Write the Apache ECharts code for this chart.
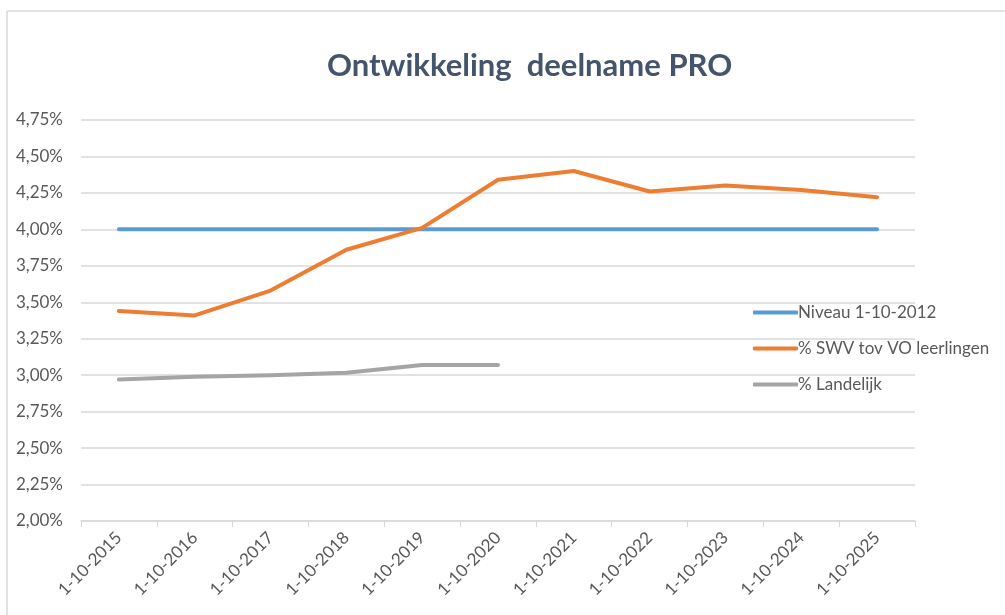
<!DOCTYPE html>
<html>
<head>
<meta charset="utf-8">
<script src="https://cdn.jsdelivr.net/npm/echarts@6/dist/echarts.min.js"></script>
<style>
  html, body { margin: 0; padding: 0; background: #fff; }
  #chart { width: 1005px; height: 615px; }
</style>
</head>
<body>
<div id="chart"></div>
<script>
// categorieën (x-as)
const categories = ['1-10-2015', '1-10-2016', '1-10-2017', '1-10-2018', '1-10-2019', '1-10-2020',
  '1-10-2021', '1-10-2022', '1-10-2023', '1-10-2024', '1-10-2025']
// reeksen, in procenten
const niveau2012 = [4.00, 4.00, 4.00, 4.00, 4.00, 4.00, 4.00, 4.00, 4.00, 4.00, 4.00]
const swvTovVo = [3.44, 3.41, 3.58, 3.86, 4.01, 4.34, 4.40, 4.26, 4.30, 4.27, 4.22]
const landelijk = [2.97, 2.99, 3.00, 3.016, 3.07, 3.07]
const seriesNames = ['Niveau 1-10-2012', '% SWV tov VO leerlingen', '% Landelijk']

const chart = echarts.init(document.getElementById('chart'))
const font = 'Lato, "Open Sans", sans-serif'

const option = {
  backgroundColor: '#fff',
  color: ['#5B9BD5', '#ED7D31', '#A5A5A5'],
  textStyle: { fontFamily: font },
  title: {
    text: 'Ontwikkeling  deelname PRO',
    left: 322,
    top: 45,
    textStyle: { fontSize: 31, fontWeight: 'bold', color: '#44546A', fontFamily: font }
  },
  graphic: [
    { type: 'line', shape: { x1: 7, y1: 11, x2: 1005, y2: 11 }, style: { stroke: '#d9d9d9', lineWidth: 1.5 } },
    { type: 'line', shape: { x1: 7, y1: 11, x2: 7, y2: 615 }, style: { stroke: '#d9d9d9', lineWidth: 1.5 } }
  ],
  legend: {
    orient: 'vertical',
    left: 748,
    top: 299,
    itemGap: 19,
    itemWidth: 45,
    itemHeight: 4,
    icon: 'roundRect',
    textStyle: { fontSize: 17, color: '#595959', padding: [0, 0, 0, -5] },
    data: seriesNames
  },
  grid: { left: 81, right: 90, top: 120, bottom: 94 },
  xAxis: {
    type: 'category',
    data: categories,
    boundaryGap: true,
    axisLine: { lineStyle: { color: '#d9d9d9', width: 1.5 } },
    axisTick: { show: true, alignWithLabel: false, length: 6, lineStyle: { color: '#d9d9d9' } },
    axisLabel: { rotate: 45, fontSize: 17, color: '#595959', margin: 14, interval: 0 }
  },
  yAxis: {
    type: 'value',
    min: 2.00,
    max: 4.75,
    interval: 0.25,
    axisLine: { show: false },
    axisTick: { show: false },
    splitLine: { lineStyle: { color: '#d9d9d9', width: 1.5 } },
    axisLabel: {
      fontSize: 17, color: '#595959', margin: 18,
      formatter: v => v.toFixed(2).replace('.', ',') + '%'
    }
  },
  series: [
    { name: seriesNames[0], type: 'line', data: niveau2012, symbol: 'none', lineStyle: { width: 4, cap: 'round' } },
    { name: seriesNames[1], type: 'line', data: swvTovVo, symbol: 'none', lineStyle: { width: 4, cap: 'round', join: 'round' } },
    { name: seriesNames[2], type: 'line', data: landelijk, symbol: 'none', lineStyle: { width: 4, cap: 'round', join: 'round' } }
  ]
}
chart.setOption(option)
</script>
</body>
</html>
